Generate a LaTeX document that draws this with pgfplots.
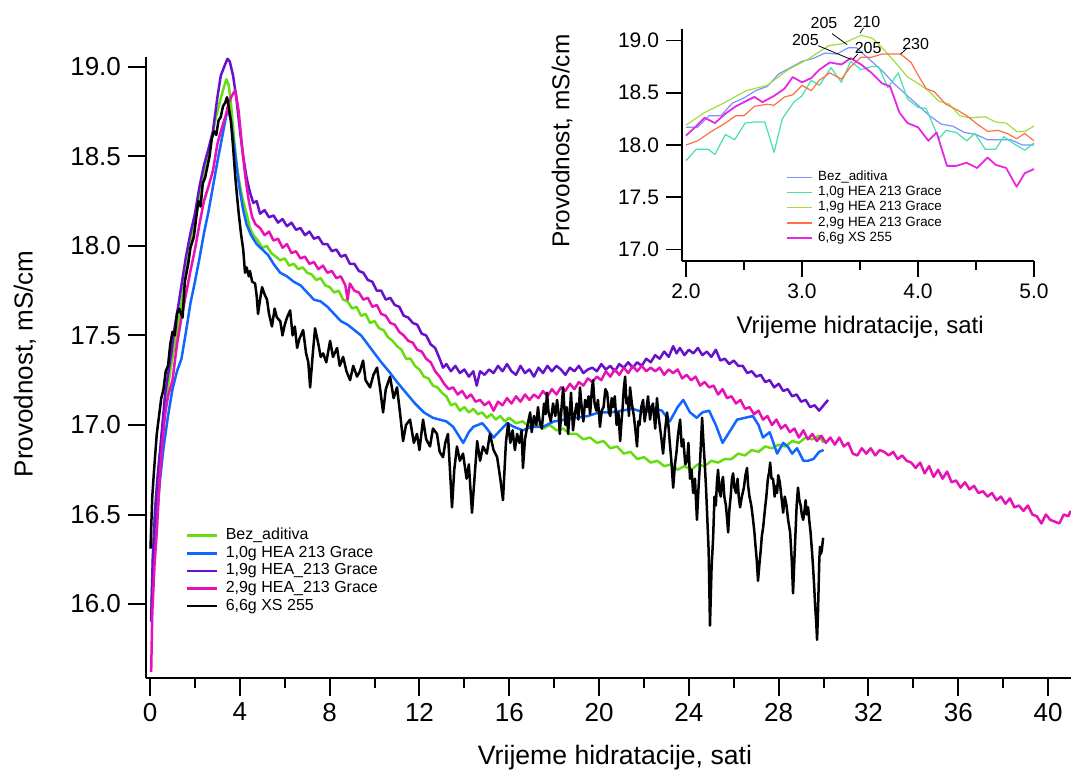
\documentclass[border=0pt]{standalone}
\usepackage{pgfplots}
\pgfplotsset{compat=1.18}
\usepackage{fontspec}
\setmainfont{Liberation Sans}
\definecolor{cgreen}{RGB}{102,221,17}
\definecolor{cblue}{RGB}{17,102,255}
\definecolor{cpurple}{RGB}{102,17,204}
\definecolor{cpink}{RGB}{232,17,182}
\definecolor{iperi}{RGB}{125,145,255}
\definecolor{iaqua}{RGB}{70,225,170}
\definecolor{iygreen}{RGB}{160,222,60}
\definecolor{iorange}{RGB}{255,110,70}
\definecolor{imag}{RGB}{230,40,230}
\begin{document}
\begin{tikzpicture}
\path[use as bounding box] (0,0) rectangle (535.5pt,385.5pt);
% ================= MAIN AXIS =================
\begin{axis}[
  at={(73pt,46.5pt)}, anchor=south west,
  scale only axis, width=462.5pt, height=310.5pt,
  xmin=-0.18, xmax=41.02, ymin=15.587, ymax=19.055,
  clip=false,
  axis x line*=bottom, axis y line*=left,
  axis line style={-, line width=1pt},
  tick align=outside,
  major tick length=9pt, minor tick length=5pt,
  tick style={black, line width=1pt},
  xtick={0,4,...,40}, minor x tick num=1,
  ytick={16,16.5,17,17.5,18,18.5,19},
  /pgf/number format/assume math mode=true,
  yticklabel style={/pgf/number format/.cd, fixed, fixed zerofill, precision=1},
  xticklabel style={/pgf/number format/.cd, fixed, precision=0},
  tick label style={font=\fontsize{13}{13}\selectfont},
  every axis x label/.style={at={(axis description cs:0.507,-0.129)}, anchor=center, font=\fontsize{13.3}{13.3}\selectfont},
  every axis y label/.style={at={(axis description cs:-0.131,0.506)}, rotate=90, anchor=center, font=\fontsize{13}{13}\selectfont},
  xlabel={Vrijeme hidratacije, sati},
  ylabel={Provodnost, mS/cm},
  legend style={at={(rel axis cs:0.042,0.244)}, anchor=north west, draw=none, fill=none,
    font=\fontsize{8}{9}\selectfont, row sep=0pt, inner sep=0pt,
    nodes={inner sep=0.4pt, text height=6pt, text depth=2pt},
    /tikz/every odd column/.style={column sep=3.6pt}},
  legend cell align=left,
  legend image code/.code={\draw[#1] (0pt,0pt) -- (15pt,0pt);},
  every axis plot/.append style={line width=1.25pt, line join=round},
]
\addplot[cgreen] table {
x y
0.05 15.95
0.15 16.35
0.25 16.58
0.4 16.8
0.55 16.97
0.7 17.13
0.9 17.3
1.1 17.45
1.3 17.6
1.5 17.77
1.7 17.93
1.9 18.08
2.1 18.2
2.3 18.33
2.5 18.45
2.7 18.56
2.9 18.7
3.1 18.8
3.25 18.87
3.4 18.93
3.5 18.9
3.6 18.8
3.7 18.66
3.8 18.52
3.9 18.42
4.0 18.34
4.15 18.25
4.3 18.18
4.45 18.1
4.6 18.06
4.8 18.03
5.0 17.99
5.2 18.0
5.4 17.96
5.6 17.94
5.8 17.92
6.0 17.93
6.2 17.89
6.4 17.9
6.6 17.87
6.8 17.88
7.0 17.85
7.2 17.84
7.4 17.81
7.6 17.82
7.8 17.78
8.0 17.77
8.2 17.74
8.4 17.75
8.6 17.7
8.8 17.69
9.0 17.65
9.2 17.66
9.4 17.61
9.6 17.62
9.8 17.57
10.0 17.58
10.2 17.54
10.4 17.53
10.6 17.49
10.8 17.47
11.0 17.44
11.2 17.42
11.4 17.37
11.6 17.37
11.8 17.33
12.0 17.31
12.2 17.27
12.4 17.26
12.6 17.22
12.8 17.21
13.0 17.18
13.2 17.16
13.4 17.11
13.6 17.12
13.8 17.08
14.0 17.1
14.2 17.07
14.4 17.09
14.6 17.06
14.8 17.07
15.0 17.04
15.2 17.06
15.4 17.03
15.6 17.05
15.8 17.02
16.0 17.04
16.3 17.01
16.6 17.02
16.9 16.99
17.2 17.01
17.5 16.98
17.8 17.0
18.1 16.97
18.4 16.98
18.7 16.95
19.0 16.95
19.3 16.92
19.6 16.93
19.9 16.9
20.2 16.91
20.5 16.87
20.8 16.88
21.1 16.84
21.4 16.85
21.7 16.81
22.0 16.82
22.3 16.79
22.6 16.8
22.9 16.77
23.2 16.78
23.5 16.75
23.8 16.77
24.1 16.75
24.4 16.78
24.7 16.77
25.0 16.8
25.3 16.79
25.6 16.81
25.9 16.81
26.2 16.84
26.5 16.83
26.8 16.86
27.1 16.85
27.4 16.88
27.7 16.87
28.0 16.89
28.3 16.88
28.6 16.91
28.9 16.9
29.2 16.93
29.5 16.92
29.8 16.94
30.0 16.9
};
\addlegendentry{Bez\_aditiva}
\addplot[cblue] table {
x y
0.05 15.9
0.15 16.2
0.3 16.49
0.45 16.7
0.6 16.87
0.8 17.05
1.0 17.2
1.2 17.3
1.4 17.37
1.6 17.52
1.8 17.68
2.0 17.8
2.2 17.93
2.4 18.07
2.6 18.19
2.8 18.33
3.0 18.47
3.2 18.6
3.35 18.7
3.47 18.77
3.6 18.7
3.75 18.56
3.9 18.4
4.0 18.31
4.15 18.2
4.3 18.12
4.5 18.06
4.75 18.01
5.0 17.98
5.25 17.95
5.5 17.9
5.8 17.85
6.1 17.83
6.4 17.8
6.7 17.78
7.0 17.74
7.3 17.7
7.6 17.69
7.9 17.66
8.2 17.62
8.5 17.58
8.8 17.56
9.1 17.53
9.4 17.5
9.7 17.45
10.0 17.4
10.3 17.35
10.7 17.29
11.0 17.24
11.4 17.18
11.8 17.12
12.2 17.07
12.6 17.04
12.9 17.03
13.2 17.02
13.5 16.99
13.7 16.95
13.95 16.9
14.2 16.96
14.4 16.99
14.8 17.01
15.0 16.98
15.3 16.93
15.6 16.97
15.9 17.01
16.2 16.99
16.6 16.97
17.0 16.99
17.5 16.99
18.0 17.02
18.5 17.03
19.0 17.04
19.5 17.05
20.0 17.07
20.5 17.07
21.0 17.08
21.5 17.09
22.0 17.07
22.5 17.09
22.8 17.08
23.15 17.02
23.5 17.1
23.75 17.14
24.05 17.07
24.35 17.04
24.6 17.07
24.9 17.08
25.2 17.0
25.5 16.9
25.8 16.96
26.15 17.03
26.5 17.04
26.85 17.05
27.1 17.0
27.3 16.93
27.6 16.96
27.93 16.84
28.2 16.9
28.4 16.88
28.6 16.84
28.82 16.87
29.1 16.8
29.3 16.8
29.55 16.81
29.8 16.85
30.0 16.86
};
\addlegendentry{1,0g HEA 213 Grace}
\addplot[cpurple] table {
x y
0.05 15.91
0.12 16.25
0.22 16.51
0.33 16.7
0.45 16.86
0.55 17.0
0.67 17.17
0.8 17.28
0.95 17.4
1.1 17.55
1.25 17.66
1.4 17.78
1.6 17.94
1.8 18.07
2.0 18.18
2.2 18.33
2.4 18.45
2.6 18.54
2.8 18.64
3.0 18.83
3.15 18.95
3.3 19.0
3.45 19.045
3.55 19.03
3.7 18.95
3.85 18.82
4.0 18.65
4.15 18.5
4.3 18.38
4.45 18.3
4.6 18.24
4.75 18.25
4.9 18.18
5.1 18.2
5.3 18.16
5.5 18.17
5.7 18.13
5.9 18.15
6.1 18.11
6.3 18.13
6.5 18.09
6.7 18.1
6.9 18.06
7.1 18.08
7.3 18.04
7.5 18.05
7.7 18.01
7.9 18.01
8.1 17.97
8.3 17.98
8.5 17.94
8.7 17.95
8.9 17.9
9.1 17.9
9.3 17.86
9.5 17.85
9.7 17.81
9.9 17.8
10.1 17.75
10.3 17.75
10.5 17.7
10.7 17.71
10.9 17.67
11.1 17.66
11.3 17.61
11.5 17.6
11.7 17.57
11.9 17.56
12.1 17.51
12.3 17.5
12.5 17.45
12.7 17.43
12.9 17.37
13.05 17.32
13.2 17.34
13.4 17.3
13.6 17.33
13.8 17.29
14.0 17.31
14.2 17.27
14.4 17.3
14.55 17.22
14.7 17.3
14.9 17.28
15.1 17.31
15.3 17.29
15.5 17.33
15.7 17.3
15.9 17.34
16.1 17.3
16.3 17.28
16.5 17.33
16.7 17.29
16.9 17.31
17.1 17.27
17.3 17.32
17.5 17.29
17.7 17.33
17.9 17.3
18.1 17.33
18.3 17.31
18.5 17.28
18.7 17.32
18.9 17.3
19.1 17.33
19.3 17.29
19.5 17.31
19.7 17.32
19.9 17.3
20.1 17.34
20.3 17.31
20.5 17.33
20.7 17.3
20.9 17.34
21.1 17.32
21.3 17.35
21.5 17.32
21.7 17.35
21.9 17.33
22.1 17.37
22.3 17.35
22.5 17.39
22.7 17.37
22.9 17.41
23.1 17.38
23.3 17.44
23.45 17.4
23.6 17.43
23.8 17.39
24.0 17.42
24.2 17.4
24.4 17.43
24.6 17.39
24.8 17.41
25.0 17.38
25.2 17.42
25.4 17.36
25.6 17.37
25.8 17.34
26.0 17.36
26.2 17.33
26.4 17.33
26.6 17.29
26.8 17.3
27.0 17.27
27.2 17.28
27.4 17.24
27.6 17.25
27.8 17.21
28.0 17.23
28.2 17.19
28.4 17.2
28.6 17.16
28.8 17.17
29.0 17.13
29.2 17.14
29.4 17.1
29.6 17.11
29.8 17.08
30.0 17.11
30.2 17.14
};
\addlegendentry{1,9g HEA\_213 Grace}
\addplot[cpink] table {
x y
0.05 15.62
0.1 15.95
0.2 16.22
0.3 16.4
0.45 16.74
0.55 16.9
0.67 17.06
0.8 17.16
1.0 17.25
1.2 17.45
1.4 17.6
1.6 17.73
1.8 17.86
2.0 17.98
2.2 18.12
2.4 18.25
2.6 18.33
2.8 18.42
3.0 18.57
3.2 18.66
3.4 18.74
3.5 18.8
3.65 18.84
3.8 18.87
3.95 18.75
4.1 18.55
4.25 18.38
4.4 18.25
4.55 18.16
4.7 18.12
4.9 18.1
5.1 18.06
5.3 18.08
5.5 18.03
5.7 18.04
5.9 17.99
6.1 18.01
6.3 17.96
6.5 17.97
6.7 17.93
6.9 17.94
7.1 17.9
7.3 17.91
7.5 17.87
7.7 17.89
7.9 17.85
8.1 17.86
8.3 17.82
8.5 17.83
8.7 17.78
8.8 17.7
8.9 17.79
9.1 17.75
9.3 17.74
9.5 17.7
9.7 17.71
9.9 17.66
10.1 17.67
10.3 17.62
10.5 17.61
10.7 17.57
10.9 17.56
11.1 17.52
11.3 17.5
11.5 17.47
11.7 17.46
11.9 17.42
12.1 17.41
12.3 17.37
12.5 17.35
12.7 17.3
12.9 17.27
13.1 17.23
13.3 17.2
13.5 17.21
13.7 17.17
13.9 17.19
14.1 17.15
14.3 17.17
14.5 17.13
14.7 17.14
14.9 17.11
15.1 17.13
15.3 17.08
15.5 17.13
15.7 17.11
15.9 17.15
16.1 17.12
16.3 17.16
16.5 17.13
16.7 17.17
16.9 17.14
17.1 17.17
17.3 17.15
17.5 17.19
17.7 17.16
17.9 17.2
18.1 17.17
18.3 17.21
18.5 17.19
18.7 17.23
18.9 17.2
19.1 17.24
19.3 17.22
19.5 17.26
19.7 17.24
19.9 17.27
20.1 17.25
20.3 17.3
20.5 17.27
20.7 17.31
20.9 17.28
21.1 17.32
21.3 17.29
21.5 17.33
21.7 17.3
21.9 17.33
22.1 17.3
22.3 17.32
22.5 17.3
22.7 17.32
22.9 17.28
23.1 17.31
23.3 17.29
23.5 17.31
23.7 17.26
23.9 17.28
24.1 17.25
24.3 17.27
24.5 17.22
24.7 17.24
24.9 17.21
25.1 17.22
25.3 17.17
25.5 17.2
25.7 17.15
25.9 17.16
26.1 17.12
26.3 17.14
26.5 17.09
26.7 17.1
26.9 17.06
27.1 17.08
27.3 17.03
27.5 17.05
27.7 17.0
27.9 17.03
28.1 16.98
28.3 17.0
28.5 16.96
28.7 16.98
28.9 16.93
29.1 16.97
29.3 16.92
29.5 16.95
29.7 16.91
29.9 16.94
30.1 16.9
30.3 16.93
30.5 16.89
30.7 16.93
30.9 16.88
31.1 16.9
31.3 16.84
31.5 16.83
31.7 16.87
31.9 16.84
32.1 16.87
32.3 16.83
32.5 16.86
32.7 16.85
32.9 16.83
33.1 16.85
33.3 16.81
33.5 16.83
33.7 16.8
33.9 16.79
34.1 16.76
34.3 16.79
34.5 16.73
34.7 16.77
34.9 16.71
35.1 16.75
35.3 16.7
35.5 16.74
35.7 16.68
35.9 16.69
36.1 16.65
36.3 16.68
36.5 16.64
36.7 16.66
36.9 16.62
37.1 16.63
37.3 16.6
37.5 16.62
37.7 16.58
37.9 16.6
38.1 16.56
38.3 16.59
38.5 16.54
38.7 16.55
38.9 16.52
39.1 16.55
39.3 16.5
39.5 16.49
39.7 16.45
39.9 16.5
40.1 16.47
40.3 16.46
40.5 16.45
40.7 16.5
40.9 16.49
41.0 16.52
};
\addlegendentry{2,9g HEA\_213 Grace}
\addplot[black] table {
x y
0.02 16.31
0.1 16.6
0.18 16.75
0.3 16.95
0.4 17.05
0.5 17.15
0.6 17.2
0.7 17.3
0.8 17.33
0.9 17.45
1.0 17.52
1.1 17.5
1.2 17.62
1.3 17.65
1.45 17.6
1.55 17.8
1.7 17.9
1.8 17.99
1.95 18.05
2.05 18.15
2.15 18.25
2.25 18.22
2.35 18.35
2.45 18.38
2.55 18.44
2.65 18.5
2.75 18.6
2.85 18.64
2.95 18.62
3.05 18.7
3.15 18.72
3.25 18.78
3.35 18.8
3.43 18.83
3.5 18.78
3.6 18.7
3.7 18.55
3.8 18.38
3.88 18.27
3.95 18.18
4.05 18.07
4.15 17.98
4.23 17.85
4.3 17.88
4.4 17.83
4.45 17.86
4.55 17.8
4.68 17.79
4.75 17.72
4.81 17.62
4.9 17.7
4.99 17.77
5.1 17.73
5.21 17.7
5.3 17.62
5.43 17.55
5.55 17.65
5.65 17.6
5.8 17.58
5.9 17.5
6.0 17.56
6.1 17.6
6.24 17.64
6.35 17.5
6.45 17.55
6.55 17.43
6.65 17.48
6.82 17.53
6.95 17.4
7.05 17.35
7.13 17.21
7.25 17.4
7.35 17.54
7.5 17.45
7.6 17.38
7.71 17.4
7.85 17.35
8.02 17.47
8.15 17.38
8.33 17.43
8.45 17.33
8.6 17.38
8.75 17.3
8.91 17.25
9.05 17.33
9.22 17.27
9.35 17.3
9.49 17.36
9.6 17.25
9.8 17.21
9.95 17.28
10.11 17.32
10.25 17.2
10.38 17.07
10.5 17.2
10.69 17.27
10.85 17.15
11.0 17.21
11.15 17.05
11.27 16.91
11.4 17.0
11.58 17.03
11.75 16.9
11.89 16.95
12.0 16.86
12.16 17.03
12.3 16.92
12.47 16.88
12.6 16.98
12.78 16.95
12.9 16.85
13.05 16.82
13.15 16.9
13.27 16.95
13.45 16.54
13.55 16.75
13.67 16.88
13.8 16.8
13.94 16.84
14.1 16.7
14.2 16.78
14.34 16.51
14.45 16.7
14.57 16.91
14.7 16.8
14.83 16.88
15.0 16.84
15.14 16.95
15.3 16.86
15.46 16.82
15.6 16.7
15.72 16.58
15.85 16.9
15.95 17.01
16.05 16.9
16.15 16.97
16.25 16.86
16.35 16.95
16.45 16.9
16.55 16.97
16.61 16.76
16.7 16.92
16.8 16.99
16.93 17.07
17.0 16.96
17.1 17.05
17.2 17.0
17.28 17.1
17.35 17.02
17.45 16.98
17.55 17.12
17.62 17.06
17.68 17.18
17.75 17.07
17.85 17.02
17.95 17.12
18.05 17.05
18.13 17.14
18.2 17.06
18.25 16.95
18.33 17.1
18.4 17.21
18.5 17.0
18.56 17.1
18.62 16.95
18.7 17.08
18.75 17.18
18.84 16.97
18.92 17.06
19.0 17.12
19.08 17.03
19.15 17.21
19.23 17.09
19.3 17.02
19.38 17.14
19.47 17.1
19.53 17.16
19.6 17.06
19.68 17.2
19.73 17.25
19.8 17.12
19.88 17.08
19.95 17.14
20.04 16.99
20.12 17.08
20.2 17.1
20.28 17.2
20.36 17.18
20.44 17.07
20.5 17.05
20.56 17.15
20.62 17.1
20.7 17.16
20.78 17.0
20.86 17.07
20.94 16.91
21.0 17.02
21.05 17.1
21.1 17.2
21.16 17.27
21.22 17.12
21.28 17.15
21.33 17.05
21.38 17.21
21.46 17.12
21.55 17.05
21.62 16.97
21.69 16.88
21.75 17.02
21.8 17.0
21.88 17.1
21.96 17.14
22.03 17.02
22.1 17.08
22.18 17.16
22.27 17.03
22.34 17.1
22.4 17.12
22.5 16.98
22.58 17.15
22.64 17.06
22.7 17.0
22.78 16.92
22.85 16.84
22.94 16.97
23.03 17.07
23.1 16.98
23.15 16.9
23.22 16.8
23.3 16.65
23.38 16.78
23.45 16.85
23.52 16.95
23.61 17.03
23.68 16.88
23.75 16.92
23.84 16.78
23.92 16.8
23.98 16.9
24.05 16.7
24.12 16.75
24.19 16.62
24.27 16.7
24.36 16.47
24.43 16.65
24.5 16.8
24.59 17.04
24.65 16.9
24.7 16.8
24.76 16.66
24.81 16.51
24.88 16.3
24.94 15.88
25.01 16.2
25.08 16.37
25.14 16.6
25.2 16.55
25.25 16.68
25.3 16.75
25.36 16.63
25.42 16.6
25.47 16.68
25.52 16.71
25.58 16.6
25.65 16.55
25.7 16.48
25.75 16.4
25.8 16.52
25.86 16.6
25.92 16.7
25.97 16.73
26.03 16.65
26.1 16.62
26.17 16.7
26.22 16.6
26.28 16.54
26.36 16.6
26.45 16.65
26.52 16.72
26.59 16.76
26.64 16.66
26.7 16.6
26.78 16.55
26.86 16.47
26.92 16.4
26.95 16.35
27.02 16.25
27.08 16.13
27.14 16.22
27.2 16.3
27.25 16.38
27.31 16.43
27.38 16.52
27.45 16.6
27.52 16.7
27.58 16.74
27.62 16.79
27.68 16.7
27.75 16.7
27.82 16.6
27.88 16.66
27.93 16.62
27.98 16.72
28.05 16.68
28.12 16.6
28.2 16.51
28.27 16.6
28.35 16.55
28.42 16.47
28.51 16.4
28.58 16.25
28.64 16.06
28.7 16.25
28.75 16.4
28.8 16.55
28.86 16.65
28.92 16.58
28.98 16.55
29.03 16.5
29.09 16.47
29.15 16.52
29.2 16.58
29.25 16.5
29.31 16.54
29.36 16.47
29.42 16.4
29.48 16.3
29.53 16.21
29.58 16.1
29.62 16.0
29.67 15.9
29.71 15.8
29.75 15.95
29.78 16.1
29.81 16.25
29.84 16.32
29.88 16.28
29.92 16.3
29.98 16.37
};
\addlegendentry{6,6g XS 255}
\end{axis}
% ================= INSET AXIS =================
\begin{axis}[
  at={(341pt,255pt)}, anchor=south west,
  scale only axis, width=176pt, height=116pt,
  xmin=1.966, xmax=5, ymin=16.89, ymax=19.11,
  clip=false,
  axis x line*=bottom, axis y line*=left,
  axis line style={-, line width=0.9pt},
  tick align=outside,
  major tick length=8pt, minor tick length=4.3pt,
  tick style={black, line width=0.9pt},
  xtick={2,3,4,5}, minor x tick num=1,
  ytick={17,17.5,18,18.5,19},
  /pgf/number format/assume math mode=true,
  yticklabel style={/pgf/number format/.cd, fixed, fixed zerofill, precision=1},
  xticklabel style={/pgf/number format/.cd, fixed, fixed zerofill, precision=1},
  tick label style={font=\fontsize{10.5}{10.5}\selectfont},
  every axis x label/.style={at={(axis description cs:0.506,-0.284)}, anchor=center, font=\fontsize{12}{12}\selectfont},
  every axis y label/.style={at={(axis description cs:-0.341,0.517)}, rotate=90, anchor=center, font=\fontsize{12.2}{12.2}\selectfont},
  xlabel={Vrijeme hidratacije, sati},
  ylabel={Provodnost, mS/cm},
  legend style={at={(rel axis cs:0.295,0.395)}, anchor=north west, draw=none, fill=none,
    font=\fontsize{6.7}{7.5}\selectfont, row sep=0pt, inner sep=0pt,
    nodes={inner sep=0.4pt, text height=5pt, text depth=1.8pt},
    /tikz/every odd column/.style={column sep=2.2pt}},
  legend cell align=left,
  legend image code/.code={\draw[#1] (0pt,0pt) -- (12.5pt,0pt);},
  every axis plot/.append style={line width=0.6pt, line join=round},
]
\addplot[iperi] table {
x y
2.0 18.17
2.1 18.17
2.2 18.28
2.3 18.28
2.4 18.4
2.5 18.45
2.6 18.52
2.7 18.56
2.8 18.68
2.9 18.74
3.0 18.8
3.1 18.83
3.2 18.88
3.3 18.87
3.4 18.93
3.47 18.93
3.55 18.85
3.7 18.7
3.8 18.58
3.9 18.48
4.0 18.38
4.1 18.28
4.2 18.2
4.3 18.18
4.4 18.12
4.5 18.1
4.6 18.05
4.7 18.05
4.8 18.05
4.9 18.0
5.0 18.0
};
\addlegendentry{Bez\_aditiva}
\addplot[iaqua] table {
x y
2.0 17.85
2.09 17.96
2.19 17.96
2.25 17.91
2.34 18.1
2.42 18.05
2.51 18.21
2.59 18.22
2.68 18.22
2.76 17.93
2.83 18.25
2.93 18.41
3.0 18.47
3.08 18.62
3.15 18.57
3.25 18.74
3.34 18.6
3.42 18.8
3.51 18.72
3.6 18.75
3.66 18.75
3.74 18.55
3.83 18.69
3.91 18.44
4.0 18.36
4.07 18.35
4.18 18.06
4.24 18.14
4.33 18.12
4.42 18.04
4.49 18.11
4.58 17.96
4.67 17.96
4.74 18.08
4.83 18.01
4.92 17.95
5.0 18.02
};
\addlegendentry{1,0g HEA 213 Grace}
\addplot[iygreen] table {
x y
2.0 18.19
2.16 18.31
2.34 18.41
2.52 18.52
2.7 18.57
2.88 18.72
3.05 18.82
3.23 18.95
3.35 18.97
3.51 19.05
3.61 19.02
3.7 18.92
3.82 18.77
3.91 18.65
4.0 18.59
4.09 18.52
4.18 18.42
4.27 18.39
4.36 18.28
4.45 18.26
4.58 18.27
4.67 18.22
4.76 18.21
4.85 18.13
4.92 18.13
5.0 18.18
};
\addlegendentry{1,9g HEA 213 Grace}
\addplot[iorange] table {
x y
2.0 18.0
2.1 18.04
2.22 18.13
2.34 18.21
2.43 18.28
2.5 18.28
2.59 18.37
2.7 18.39
2.76 18.38
2.85 18.46
2.92 18.48
3.0 18.57
3.08 18.52
3.15 18.62
3.24 18.69
3.34 18.63
3.42 18.75
3.51 18.84
3.6 18.84
3.69 18.87
3.85 18.87
3.94 18.79
4.0 18.67
4.07 18.54
4.14 18.51
4.24 18.39
4.33 18.34
4.42 18.28
4.51 18.2
4.6 18.13
4.69 18.14
4.77 18.11
4.85 18.06
4.92 18.11
5.0 18.04
};
\addlegendentry{2,9g HEA 213 Grace}
\addplot[imag, line width=0.9pt] table {
x y
2.0 18.09
2.07 18.16
2.16 18.26
2.25 18.21
2.34 18.3
2.43 18.37
2.5 18.41
2.59 18.46
2.66 18.41
2.76 18.47
2.85 18.54
2.92 18.65
3.0 18.6
3.08 18.64
3.15 18.72
3.24 18.79
3.34 18.77
3.42 18.83
3.51 18.77
3.6 18.69
3.69 18.59
3.76 18.56
3.84 18.31
3.91 18.21
4.0 18.17
4.09 18.04
4.16 18.12
4.25 17.8
4.33 17.8
4.42 17.83
4.51 17.78
4.6 17.88
4.67 17.81
4.76 17.78
4.85 17.6
4.92 17.73
5.0 17.77
};
\addlegendentry{6,6g XS 255}
% tags
\draw[black, line width=0.4pt] (axis cs:3.26,19.065) -- (axis cs:3.39,18.96);
\node[font=\fontsize{8}{8}\selectfont, inner sep=0pt] at (axis cs:3.19,19.165) {205};
\draw[black, line width=0.4pt] (axis cs:3.53,19.12) -- (axis cs:3.5,19.07);
\node[font=\fontsize{8}{8}\selectfont, inner sep=0pt] at (axis cs:3.56,19.18) {210};
\draw[black, line width=0.4pt] (axis cs:3.14,18.95) -- (axis cs:3.42,18.82);
\node[font=\fontsize{8}{8}\selectfont, inner sep=0pt] at (axis cs:3.03,19.0) {205};
\draw[black, line width=0.4pt] (axis cs:3.48,18.87) -- (axis cs:3.44,18.82);
\node[font=\fontsize{8}{8}\selectfont, inner sep=0pt] at (axis cs:3.57,18.93) {205};
\draw[black, line width=0.4pt] (axis cs:3.9,18.92) -- (axis cs:3.85,18.87);
\node[font=\fontsize{8}{8}\selectfont, inner sep=0pt] at (axis cs:3.98,18.97) {230};
\end{axis}
\end{tikzpicture}
\end{document}
